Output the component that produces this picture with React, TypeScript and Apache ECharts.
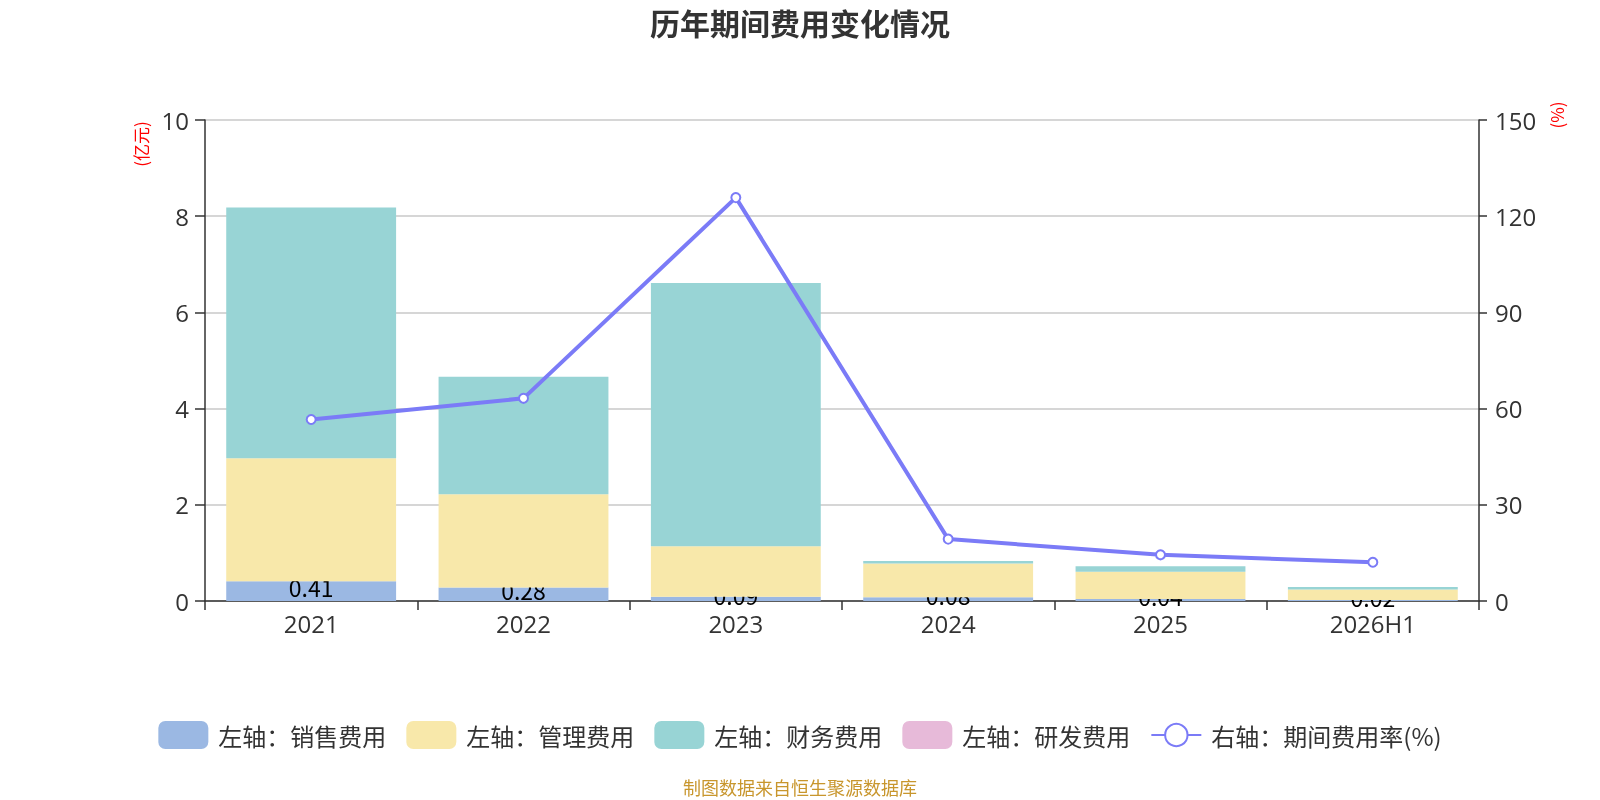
import React, { useEffect, useRef } from "react";
import * as echarts from "echarts";

const categories = ["2021", "2022", "2023", "2024", "2025", "2026H1"];
const salesExpense = [0.41, 0.28, 0.09, 0.08, 0.04, 0.02];
const adminExpense = [2.56, 1.94, 1.05, 0.7, 0.57, 0.22];
const financeExpense = [5.21, 2.44, 5.47, 0.05, 0.11, 0.05];
const rdExpense = [0, 0, 0, 0, 0, 0];
const expenseRate = [56.6, 63.2, 125.8, 19.3, 14.4, 12.1];

const FONT = '"Noto Sans CJK SC", "Noto Sans", sans-serif';
const NUMFONT = '"Open Sans", "Noto Sans CJK SC", sans-serif';

export default function App() {
  const ref = useRef<HTMLDivElement>(null);
  useEffect(() => {
    if (!ref.current) return;
    const chart = echarts.init(ref.current, undefined, { renderer: "svg" });
    const axisLabel = { color: "#333", fontSize: 24, fontFamily: NUMFONT };
    chart.setOption({
      animation: false,
      textStyle: { fontFamily: FONT },
      title: {
        text: "历年期间费用变化情况",
        left: "center",
        top: 2,
        textStyle: { fontSize: 30, fontWeight: "bold", color: "#333", fontFamily: FONT },
      },
      legend: {
        left: "center",
        top: 716,
        itemWidth: 50,
        itemHeight: 28,
        itemGap: 20,
        textStyle: { fontSize: 24, color: "#333", fontFamily: FONT, padding: [0, 0, 0, 5] },
        data: [
          { name: "左轴：销售费用", icon: "roundRect" },
          { name: "左轴：管理费用", icon: "roundRect" },
          { name: "左轴：财务费用", icon: "roundRect" },
          { name: "左轴：研发费用", icon: "roundRect" },
          { name: "右轴：期间费用率(%)" },
        ],
      },
      grid: { left: 205, right: 121, top: 120, bottom: 199 },
      xAxis: {
        type: "category",
        data: categories,
        axisLine: { lineStyle: { color: "#333", width: 1.5 } },
        axisTick: { show: true, length: 9, lineStyle: { color: "#333", width: 1.5 } },
        axisLabel: { ...axisLabel, margin: 10 },
      },
      yAxis: [
        {
          type: "value",
          min: 0,
          max: 10,
          interval: 2,
          axisLine: { show: true, lineStyle: { color: "#333", width: 1.5 } },
          axisTick: { show: true, length: 10, lineStyle: { color: "#333", width: 1.5 } },
          axisLabel: { ...axisLabel, margin: 16 },
          splitLine: { show: true, lineStyle: { color: "#c8c8c8", width: 1.5 } },
        },
        {
          type: "value",
          min: 0,
          max: 150,
          interval: 30,
          axisLine: { show: true, lineStyle: { color: "#333", width: 1.5 } },
          axisTick: { show: true, length: 8, lineStyle: { color: "#333", width: 1.5 } },
          axisLabel: { ...axisLabel, margin: 16 },
          splitLine: { show: false },
        },
      ],
      graphic: [
        {
          type: "text",
          x: 140,
          y: 144,
          rotation: Math.PI / 2,
          style: {
            text: "(亿元)",
            fill: "#ff0000",
            fontSize: 17,
            fontFamily: FONT,
            align: "center",
            verticalAlign: "middle",
          },
        },
        {
          type: "text",
          x: 1556,
          y: 115,
          rotation: Math.PI / 2,
          style: {
            text: "(%)",
            fill: "#ff0000",
            fontSize: 17,
            fontFamily: FONT,
            align: "center",
            verticalAlign: "middle",
          },
        },
        {
          type: "text",
          x: 800,
          y: 787,
          style: {
            text: "制图数据来自恒生聚源数据库",
            fill: "#C8962D",
            fontSize: 18,
            fontFamily: FONT,
            align: "center",
            verticalAlign: "middle",
          },
        },
      ],
      series: [
        {
          name: "左轴：销售费用",
          type: "bar",
          stack: "total",
          barWidth: "80%",
          z: 1,
          data: salesExpense,
          itemStyle: { color: "#9BB8E3" },
          label: {
            show: true,
            position: "inside",
            offset: [0, -4],
            color: "#000",
            fontSize: 23,
            fontFamily: FONT,
            formatter: (p: any) => Number(p.value).toFixed(2),
          },
        },
        {
          name: "左轴：管理费用",
          type: "bar",
          stack: "total",
          barWidth: "80%",
          z: 2,
          data: adminExpense,
          itemStyle: { color: "#F8E8AA" },
        },
        {
          name: "左轴：财务费用",
          type: "bar",
          stack: "total",
          barWidth: "80%",
          z: 2,
          data: financeExpense,
          itemStyle: { color: "#98D4D5" },
        },
        {
          name: "左轴：研发费用",
          type: "bar",
          stack: "total",
          barWidth: "80%",
          z: 2,
          data: rdExpense,
          itemStyle: { color: "#E7BAD9" },
        },
        {
          name: "右轴：期间费用率(%)",
          type: "line",
          yAxisIndex: 1,
          z: 5,
          data: expenseRate,
          symbol: "emptyCircle",
          symbolSize: 9,
          color: "#7B7BF7",
          lineStyle: { width: 4, color: "#7B7BF7" },
          itemStyle: { color: "#7B7BF7", borderWidth: 2 },
        },
      ],
    });
    return () => chart.dispose();
  }, []);
  return (
    <div
      ref={ref}
      style={{ position: "fixed", left: 0, top: 0, width: 1600, height: 800 }}
    />
  );
}
